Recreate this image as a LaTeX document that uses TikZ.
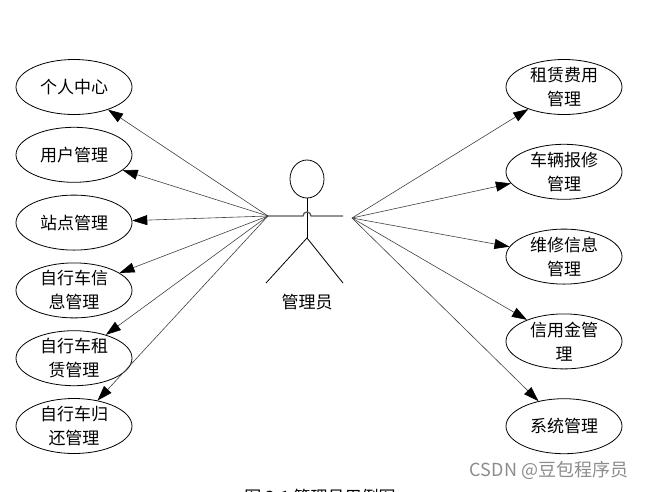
\documentclass[tikz,border=0pt]{standalone}
\usepackage{fontspec}
\setmainfont{Noto Sans CJK SC}
\usepackage{tikz}
\usetikzlibrary{shapes,arrows,positioning,calc,arrows.meta}

\begin{document}
\begin{tikzpicture}[
    x=1pt,y=-1pt,
    font=\fontsize{17}{24}\selectfont,
    usecase/.style={
        ellipse,
        draw,
        line width=0.8pt,
        minimum width=116pt,
        minimum height=55pt,
        inner sep=0pt,
        label={[align=center]center:#1}
      },
    arrow/.style={-{Triangle[length=15pt,width=10pt,color=black]},draw=black!75,line width=0.6pt},
    stick/.style={line width=0.8pt}
    ]

    \useasboundingbox (0,0) rectangle (651,491);

    % left column
    \node[usecase={个人中心}] (center) at (74,87) {};
    \node[usecase={用户管理},below=12pt of center] (user) {};
    \node[usecase={站点管理},below=12pt of user] (station) {};
    \node[usecase={自行车信\\息管理},below=12pt of station] (bikeinfo) {};
    \node[usecase={自行车租\\赁管理},below=12pt of bikeinfo] (rent) {};
    \node[usecase={自行车归\\还管理},below=12pt of rent] (giveback) {};

    % right column
    \node[usecase={租赁费用\\管理}] (fee) at (564,87) {};
    \node[usecase={车辆报修\\管理},below=29pt of fee] (repair) {};
    \node[usecase={维修信息\\管理},below=29pt of repair] (repairinfo) {};
    \node[usecase={信用金管\\理},below=29pt of repairinfo] (credit) {};
    \node[usecase={系统管理},below=29pt of credit] (system) {};

    % actor
    \draw[stick] (307,179) ellipse (17 and 19);
    \draw[stick] (307,198) -- (307,238);
    \draw[line width=1.3pt,black!65] (268,216) -- (303,216) arc (180:360:4) -- (343,216);
    \draw[stick] (266,283) -- (307,238) -- (343,283);
    \node (admin) at (307,302) {管理员};
    \coordinate (lhand) at (268,216);
    \coordinate (rhand) at (352,218);

    \foreach \u in {center,user,station,bikeinfo,rent,giveback}
      \draw[arrow] (lhand)--(\u);
    \foreach \u in {fee,repair,repairinfo,credit,system}
      \draw[arrow] (rhand)--(\u);

    \node (caption) at (320,497) {图 3-1 管理员用例图};
    \node[black!45,font=\fontsize{18}{20}\selectfont] (mark) at (549,470) {CSDN @豆包程序员};

  \end{tikzpicture}
\end{document}
